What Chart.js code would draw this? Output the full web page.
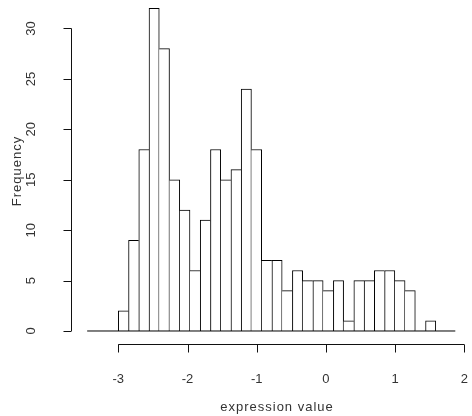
<!DOCTYPE html>
<html>
<head>
<meta charset="utf-8">
<title>expression value histogram</title>
<script src="https://cdn.jsdelivr.net/npm/chart.js@4.4.1/dist/chart.umd.min.js"></script>
<style>
  html, body { margin: 0; padding: 0; background: #fff; }
  canvas { display: block; }
</style>
</head>
<body>
<canvas id="histChart" width="472" height="416"></canvas>
<script>
// histogram: 31 equal bins starting at -3
const binStart = -3
const binWidth = 0.148
const counts = [2, 9, 18, 32, 28, 15, 12, 6, 11, 18, 15, 16, 24, 18, 7, 7, 4, 6, 5, 5, 4, 5, 1, 5, 5, 6, 6, 5, 4, 0, 1]

const xTicks = [-3, -2, -1, 0, 1, 2]
const yTicks = [0, 5, 10, 15, 20, 25, 30]
const baselineRange = [-3.45, 1.87]

const xTitle = "expression value"
const yTitle = "Frequency"

document.addEventListener("DOMContentLoaded", () => {
  drawHistogram()
})

// only one of two neighbouring bars draws the shared edge, the taller one
function edgeWidths(ctx) {
  const i = ctx.dataIndex
  const h = counts[i]
  const prev = i > 0 ? counts[i - 1] : 0
  const next = i < counts.length - 1 ? counts[i + 1] : 0
  return {
    top: 1,
    bottom: 0,
    left: h >= prev ? 1 : 0,
    right: h > next ? 1 : 0,
  }
}

// R-style axes, drawn detached from the plot region
const baseAxes = {
  id: "baseAxes",
  afterDraw(chart) {
    const ctx = chart.ctx
    const xs = chart.scales.x
    const ys = chart.scales.y
    ctx.save()
    ctx.strokeStyle = "#111"
    ctx.lineWidth = 1

    // x axis
    const axisY = 344.5
    ctx.beginPath()
    ctx.moveTo(xs.getPixelForValue(xTicks[0]), axisY)
    ctx.lineTo(xs.getPixelForValue(xTicks[xTicks.length - 1]), axisY)
    xTicks.forEach((t) => {
      const px = Math.round(xs.getPixelForValue(t)) + 0.5
      ctx.moveTo(px, axisY)
      ctx.lineTo(px, axisY + 8)
    })
    ctx.stroke()

    // y axis
    const axisX = 71.5
    ctx.beginPath()
    ctx.moveTo(axisX, ys.getPixelForValue(yTicks[0]))
    ctx.lineTo(axisX, ys.getPixelForValue(yTicks[yTicks.length - 1]))
    yTicks.forEach((t) => {
      const py = Math.round(ys.getPixelForValue(t)) + 0.5
      ctx.moveTo(axisX, py)
      ctx.lineTo(axisX - 8, py)
    })
    ctx.stroke()

    ctx.fillStyle = "#333"
    ctx.font = "13px 'Liberation Sans', Arial, sans-serif"
    ctx.textAlign = "center"
    ctx.textBaseline = "alphabetic"
    xTicks.forEach((t) => {
      ctx.fillText(String(t), xs.getPixelForValue(t), 382.5)
    })
    yTicks.forEach((t) => {
      ctx.save()
      ctx.translate(35, ys.getPixelForValue(t))
      ctx.rotate(-Math.PI / 2)
      ctx.fillText(String(t), 0, 0)
      ctx.restore()
    })

    // axis titles
    ctx.letterSpacing = "1px"
    ctx.fillText(xTitle, 277, 410.5)
    ctx.save()
    ctx.translate(21, 171)
    ctx.rotate(-Math.PI / 2)
    ctx.fillText(yTitle, 0, 0)
    ctx.restore()
    ctx.restore()
  },
}

function drawHistogram() {
  const canvas = document.getElementById("histChart")
  if (!canvas) return

  const bars = counts.map((c, i) => ({ x: binStart + (i + 0.5) * binWidth, y: c }))

  new Chart(canvas, {
    type: "bar",
    data: {
      datasets: [
        {
          type: "line",
          data: baselineRange.map((x) => ({ x: x, y: 0 })),
          borderColor: "#000",
          borderWidth: 1,
          pointRadius: 0,
          fill: false,
          clip: false,
          order: 1,
        },
        {
          data: bars,
          backgroundColor: "#fff",
          borderColor: "#000",
          borderWidth: edgeWidths,
          borderSkipped: false,
          barPercentage: 1,
          categoryPercentage: 1,
          grouped: false,
          order: 2,
        },
      ],
    },
    options: {
      responsive: false,
      animation: false,
      devicePixelRatio: 1,
      layout: {
        padding: { left: 73.32, right: 4.24, top: 3.29, bottom: 74.92 },
      },
      plugins: {
        legend: { display: false },
        tooltip: { enabled: false },
      },
      scales: {
        x: { type: "linear", offset: false, min: -3.65, max: 2.05, display: false },
        y: { type: "linear", min: -1, max: 32.5, display: false },
      },
    },
    plugins: [baseAxes],
  })
}
</script>
</body>
</html>
